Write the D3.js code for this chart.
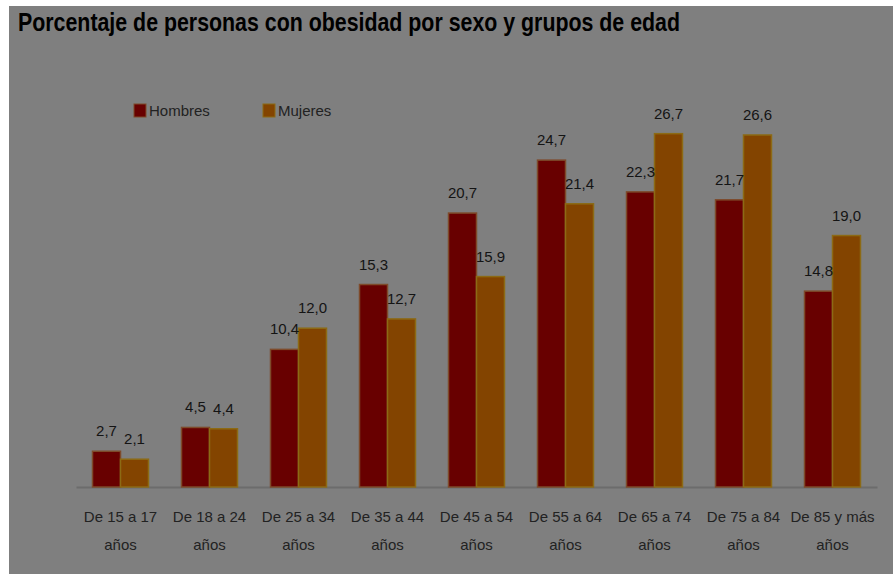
<!DOCTYPE html>
<html>
<head>
<meta charset="utf-8">
<script src="https://cdn.jsdelivr.net/npm/d3@7"></script>
<style>
  body { margin: 0; background: #fff; }
  text { font-family: "Liberation Sans", Arial, sans-serif; }
</style>
</head>
<body>
<script>
var categories = ["De 15 a 17", "De 18 a 24", "De 25 a 34", "De 35 a 44", "De 45 a 54",
                  "De 55 a 64", "De 65 a 74", "De 75 a 84", "De 85 y más"];
var series = ["Hombres", "Mujeres"];
var hombres = [2.7, 4.5, 10.4, 15.3, 20.7, 24.7, 22.3, 21.7, 14.8];
var mujeres = [2.1, 4.4, 12.0, 12.7, 15.9, 21.4, 26.7, 26.6, 19.0];

var width = 893, height = 574;
var colors = { "Hombres": "#680000", "Mujeres": "#834400" };
var edges = { "Hombres": "#7e4a2a", "Mujeres": "#8c6a14" };

var svg = d3.select("body").append("svg")
  .attr("width", width)
  .attr("height", height);

// gray panel
svg.append("rect")
  .attr("x", 9).attr("y", 6)
  .attr("width", width - 9).attr("height", height - 6)
  .attr("fill", "#7f7f7f");

svg.append("text")
  .attr("x", 18).attr("y", 31)
  .attr("font-size", 26)
  .attr("font-weight", "bold")
  .attr("textLength", 662)
  .attr("lengthAdjust", "spacingAndGlyphs")
  .attr("fill", "#000")
  .text("Porcentaje de personas con obesidad por sexo y grupos de edad");

var x0 = d3.scaleBand().domain(categories).range([76, 877]).padding(0);
var x1 = d3.scaleBand().domain(series).range([0, x0.bandwidth()])
  .paddingInner(0).paddingOuter(0.59);
var y = d3.scaleLinear().domain([0, 30]).range([487, 90]);

var fmt = d3.formatLocale({ decimal: ",", thousands: ".", grouping: [3], currency: ["", "€"] }).format(".1f");

var rows = categories.map(function(c, i) {
  return { cat: c, values: [
    { key: "Hombres", value: hombres[i] },
    { key: "Mujeres", value: mujeres[i] }
  ] };
});

// axis
var axis = svg.append("g")
  .attr("transform", "translate(0," + y(0) + ")")
  .call(d3.axisBottom(x0).tickSize(0).tickSizeOuter(0));
axis.select(".domain").attr("stroke", "#6c6c6c").attr("stroke-width", 2);
axis.selectAll(".tick text").each(function(d) {
  var t = d3.select(this).text(null).attr("y", null).attr("dy", null)
    .attr("font-size", 15).attr("fill", "#222")
    .attr("font-family", "'Liberation Sans', Arial, sans-serif");
  t.append("tspan").attr("x", 0).attr("y", 35).text(d);
  t.append("tspan").attr("x", 0).attr("y", 63).text("años");
});

var groups = svg.selectAll("g.grp")
  .data(rows)
  .enter().append("g")
  .attr("class", "grp")
  .attr("transform", function(d) { return "translate(" + x0(d.cat) + ",0)"; });

groups.selectAll("rect")
  .data(function(d) { return d.values; })
  .enter().append("rect")
  .attr("x", function(d) { return x1(d.key); })
  .attr("y", function(d) { return y(d.value); })
  .attr("width", x1.bandwidth())
  .attr("height", function(d) { return y(0) - y(d.value); })
  .attr("fill", function(d) { return colors[d.key]; })
  .attr("stroke", function(d) { return edges[d.key]; })
  .attr("stroke-width", 1.5);

groups.selectAll("text.val")
  .data(function(d) { return d.values; })
  .enter().append("text")
  .attr("class", "val")
  .attr("x", function(d) { return x1(d.key) + x1.bandwidth() / 2; })
  .attr("y", function(d) { return y(d.value) - 15; })
  .attr("text-anchor", "middle")
  .attr("font-size", 15)
  .attr("fill", "#141414")
  .text(function(d) { return fmt(d.value); });

// legend
var legend = svg.selectAll("g.leg")
  .data(series)
  .enter().append("g")
  .attr("class", "leg")
  .attr("transform", function(d, i) { return "translate(" + (134 + i * 129) + ",104)"; });
legend.append("rect")
  .attr("width", 12).attr("height", 13)
  .attr("fill", function(d) { return colors[d]; })
  .attr("stroke", function(d) { return edges[d]; });
legend.append("text")
  .attr("x", 15).attr("y", 12)
  .attr("font-size", 15)
  .attr("fill", "#222")
  .text(function(d) { return d; });
</script>
</body>
</html>
